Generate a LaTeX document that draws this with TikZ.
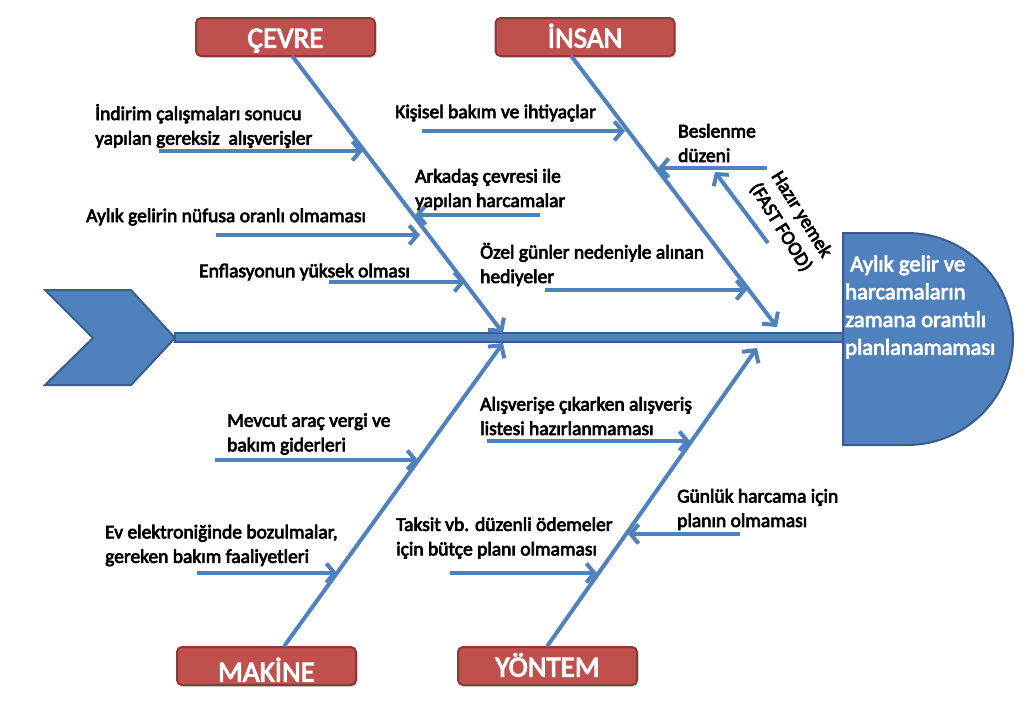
\documentclass[tikz,border=0pt]{standalone}
\usepackage{fontspec}
\setmainfont{Carlito}[BoldFont=Carlito, BoldFeatures={FakeBold=3.5}]
\usetikzlibrary{arrows.meta,shadows}
\definecolor{bone}{HTML}{4F81BD}
\definecolor{boneedge}{HTML}{385D8A}
\definecolor{catfill}{HTML}{C0504D}
\definecolor{catedge}{HTML}{8C3836}
\begin{document}
\begin{tikzpicture}[x=1pt,y=-1pt,
  bonearrow/.style={draw=bone, line width=4pt, line cap=round,
    -{Straight Barb[length=9pt,width=20pt,line width=4pt]}},
  subarrow/.style={draw=bone, line width=4pt,
    -{Straight Barb[length=8pt,width=19pt,line width=4pt]}},
  catbox/.style={rectangle, rounded corners=5pt, fill=catfill, draw=catedge,
    line width=2pt, minimum width=179pt, minimum height=38pt, inner ysep=0pt,
    text=white, text depth=0pt, font=\bfseries\fontsize{29}{30}\selectfont,
    drop shadow={shadow xshift=1.5pt, shadow yshift=-2pt, opacity=.35}},
  cause/.style={anchor=west, align=left, inner sep=0pt,
    font=\bfseries\fontsize{19.5}{24.5}\selectfont},
  bigshape/.style={fill=bone, draw=boneedge, line width=2pt, line join=miter}
]
\useasboundingbox (0,0) rectangle (1022,702);

% tail chevron
\draw[bigshape] (45,290) -- (131,290) -- (175,338) -- (131,385) -- (45,385) -- (93,338) -- cycle;
% head
\draw[bigshape] (843,233) -- (907,233) arc[start angle=-90, end angle=90, radius=106] -- (843,445) -- cycle;
% spine
\draw[fill=bone, draw=boneedge, line width=1.5pt] (175,333) rectangle (843,342);

\node[font=\bfseries\fontsize{22.6}{27.8}\selectfont, text=white, align=left,
  anchor=west, inner sep=0pt] (head) at (845,307)
  {\ Aylık gelir ve\\harcamaların\\zamana orantılı\\planlanamaması};

% categories
\node[catbox, text height=21pt] (cevre) at (285.5,37) {ÇEVRE};
\node[catbox, text height=21pt] (insan) at (585,37) {İNSAN};
\node[catbox, text height=31pt] (makine) at (266.5,666) {MAKİNE};
\node[catbox, text height=21pt] (yontem) at (547.5,666) {YÖNTEM};

% bone coordinates
\coordinate (cS) at (293,57);   \coordinate (cT) at (503,333);
\coordinate (iS) at (572,57);   \coordinate (iT) at (777,327);
\coordinate (mS) at (285,645);  \coordinate (mT) at (503,343);
\coordinate (yS) at (548,645);  \coordinate (yT) at (757,348);

\draw[bonearrow] (cS) -- (cT);
\draw[bonearrow] (iS) -- (iT);
\draw[bonearrow] (mS) -- (mT);
\draw[bonearrow] (yS) -- (yT);

% sub-arrow coordinates
\coordinate (a1s) at (159,151); \coordinate (a1t) at (363,151);
\coordinate (a2s) at (216,235); \coordinate (a2t) at (420,235);
\coordinate (a3s) at (329,282); \coordinate (a3t) at (465,282);
\coordinate (a4s) at (540,215); \coordinate (a4t) at (415,215);
\coordinate (a5s) at (422,131); \coordinate (a5t) at (625,131);
\coordinate (a6s) at (767,168); \coordinate (a6t) at (658,168);
\coordinate (a7s) at (768,243); \coordinate (a7t) at (715,172);
\coordinate (a8s) at (545,290); \coordinate (a8t) at (747,290);
\coordinate (a9s) at (215,460); \coordinate (a9t) at (418,460);
\coordinate (a10s) at (197,573); \coordinate (a10t) at (337,573);
\coordinate (a11s) at (487,441); \coordinate (a11t) at (690,441);
\coordinate (a12s) at (450,573); \coordinate (a12t) at (597,573);
\coordinate (a13s) at (740,534); \coordinate (a13t) at (628,534);

\foreach \i in {1,...,13} {\draw[subarrow] (a\i s) -- (a\i t);}

% cause texts
\node[cause] (t1) at (95,126) {İndirim çalışmaları sonucu\\yapılan gereksiz\ \ alışverişler};
\node[cause] (t2) at (86,217) {Aylık gelirin nüfusa oranlı olmaması};
\node[cause] (t3) at (199,272) {Enflasyonun yüksek olması};
\node[cause] (t4) at (415,189.5) {Arkadaş çevresi ile\\yapılan harcamalar};
\node[cause] (t5) at (395,113) {Kişisel bakım ve ihtiyaçlar};
\node[cause] (t6) at (678,143) {Beslenme\\düzeni};
\node[cause, anchor=center, align=center, rotate=-58] (t7) at (791,221) {Hazır yemek\\(FAST FOOD)};
\node[cause] (t8) at (480,264.5) {Özel günler nedeniyle alınan\\hediyeler};
\node[cause] (t9) at (227,434) {Mevcut araç vergi ve\\bakım giderleri};
\node[cause] (t10) at (105,545.5) {Ev elektroniğinde bozulmalar,\\gereken bakım faaliyetleri};
\node[cause] (t11) at (480,416) {Alışverişe çıkarken alışveriş\\listesi hazırlanmaması};
\node[cause] (t12) at (396,538) {Taksit vb. düzenli ödemeler\\için bütçe planı olmaması};
\node[cause] (t13) at (677,509.5) {Günlük harcama için\\planın olmaması};
\end{tikzpicture}
\end{document}
